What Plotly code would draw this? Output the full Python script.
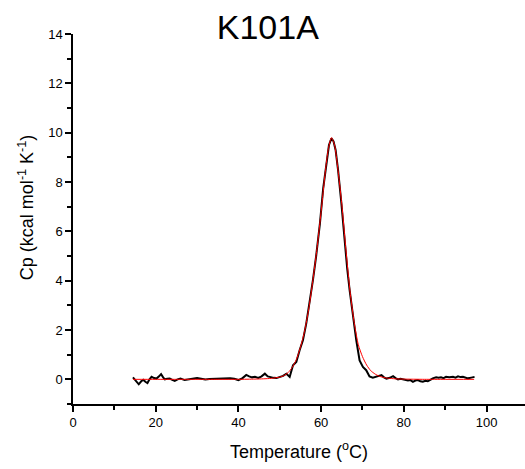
import plotly.graph_objects as go

# Measured DSC data (black)
temp_data = [14.5, 15.2, 15.9, 16.5, 17.0, 17.5, 18.0, 18.5, 19.0, 19.6, 20.2, 20.8, 21.3, 21.8,
             22.2, 22.8, 23.4, 24.0, 24.6, 25.3, 26.0, 27.0, 28.0, 29.0, 30.0, 31.0, 32.0, 33.0,
             34.0, 35.0, 36.0, 37.0, 38.0, 39.0, 40.0, 41.0, 41.9, 42.6, 43.3, 44.0, 44.8, 45.6,
             46.4, 47.1, 47.8, 48.5, 49.2, 50.0, 50.8, 51.6, 52.4, 53.2, 54.0, 54.8, 55.6, 56.4,
             57.2, 58.0, 58.8, 59.7, 60.5, 61.3, 61.9, 62.5, 63.0, 63.5, 64.1, 64.9, 65.7, 66.3,
             66.9, 67.7, 68.5, 69.3, 70.1, 70.9, 71.7, 72.5, 73.3, 74.1, 74.6, 75.2, 75.8, 76.6,
             77.4, 78.0, 78.6, 79.2, 79.8, 80.4, 81.0, 81.6, 82.2, 82.8, 83.4, 84.0, 84.6, 85.2,
             85.8, 86.4, 87.0, 87.8, 88.4, 89.0, 89.6, 90.2, 91.0, 91.9, 92.5, 93.1, 93.7, 94.3,
             94.9, 95.5, 96.3, 97.1]
cp_data = [0.08, -0.05, -0.2, -0.08, -0.02, -0.1, -0.15, 0.0, 0.1, 0.05, 0.03, 0.12, 0.21, 0.08,
           0.0, 0.02, 0.03, -0.02, -0.06, 0.0, 0.03, -0.03, 0.0, 0.03, 0.05, 0.02, -0.01, 0.01,
           0.02, 0.0, 0.03, 0.02, 0.04, 0.02, -0.03, 0.05, 0.18, 0.12, 0.08, 0.1, 0.06, 0.12,
           0.23, 0.12, 0.08, 0.06, 0.05, 0.1, 0.14, 0.23, 0.1, 0.57, 0.7, 1.18, 1.58, 2.26,
           3.07, 4.0, 5.0, 6.3, 7.74, 8.89, 9.5, 9.77, 9.65, 9.3, 8.48, 7.13, 5.5, 4.5,
           3.61, 2.53, 1.58, 0.77, 0.5, 0.37, 0.12, 0.07, 0.1, 0.12, 0.17, 0.08, 0.03, 0.06,
           0.13, 0.05, 0.0, 0.02, 0.0, -0.02, -0.05, -0.03, -0.1, -0.05, -0.03, -0.08, -0.1, -0.06,
           -0.08, -0.02, 0.04, 0.08, 0.06, 0.08, 0.05, 0.1, 0.08, 0.1, 0.07, 0.12, 0.09, 0.1,
           0.06, 0.04, 0.07, 0.1]

# Fitted curve (red)
temp_fit = [14.5, 20, 25, 30, 35, 40, 44, 46, 48, 50, 51, 52, 53, 54, 55, 56, 57, 58, 59, 60,
            61, 61.75, 62.5, 63.25, 64, 65, 66, 67, 68, 69, 70, 71, 72, 73, 74, 75, 76, 78, 80,
            85, 90, 97]
cp_fit = [0.0, 0.0, 0.0, 0.0, 0.0, 0.0, 0.01, 0.02, 0.04, 0.09, 0.15, 0.27, 0.48, 0.8, 1.3,
          1.95, 2.85, 4.0, 5.3, 6.8, 8.4, 9.35, 9.8, 9.5, 8.6, 7.1, 5.25, 3.55, 2.3, 1.4, 0.92,
          0.58, 0.35, 0.22, 0.13, 0.08, 0.05, 0.02, 0.01, 0.0, 0.0, 0.0]

title_text = "K101A"
x_title = "Temperature (<sup>o</sup>C)"
y_title = "Cp (kcal mol<sup>-1</sup> K<sup>-1</sup>)"

FONT = "Arial, Liberation Sans, sans-serif"

fig = go.Figure()
fig.add_trace(go.Scatter(x=temp_data, y=cp_data, mode="lines",
                         line=dict(color="black", width=2), showlegend=False))
fig.add_trace(go.Scatter(x=temp_fit, y=cp_fit, mode="lines",
                         line=dict(color="red", width=1, shape="spline", smoothing=0.6),
                         showlegend=False))

axis_common = dict(showline=True, linecolor="black", linewidth=1.5, ticks="outside",
                   ticklen=6, tickwidth=1.5, tickcolor="black", showgrid=False, zeroline=False,
                   tickfont=dict(family=FONT, size=13, color="black"))

fig.update_xaxes(range=[0, 109.3], tickmode="array", tickvals=[0, 20, 40, 60, 80, 100],
                 minor=dict(ticks="outside", ticklen=4, tickwidth=1.5, tickcolor="black", dtick=10, tick0=0),
                 title=dict(text=x_title, font=dict(family=FONT, size=18, color="black"), standoff=16),
                 **axis_common)
fig.update_yaxes(range=[-1, 14], tickmode="array", tickvals=[0, 2, 4, 6, 8, 10, 12, 14],
                 minor=dict(ticks="outside", ticklen=4, tickwidth=1.5, tickcolor="black", dtick=1, tick0=0),
                 **axis_common)

fig.add_annotation(text=y_title, xref="paper", yref="paper", x=-0.104, y=0.532,
                   textangle=-90, showarrow=False, xanchor="center", yanchor="middle",
                   font=dict(family=FONT, size=18, color="black"))

fig.update_layout(
    width=525, height=469,
    margin=dict(l=73, r=0, t=34, b=65),
    paper_bgcolor="white", plot_bgcolor="white",
    title=dict(text=title_text, x=0.431, xref="paper", xanchor="center",
               y=1 - 27.5 / 469, yanchor="middle",
               font=dict(family=FONT, size=34, color="black")),
)

fig.write_html("out.html")
